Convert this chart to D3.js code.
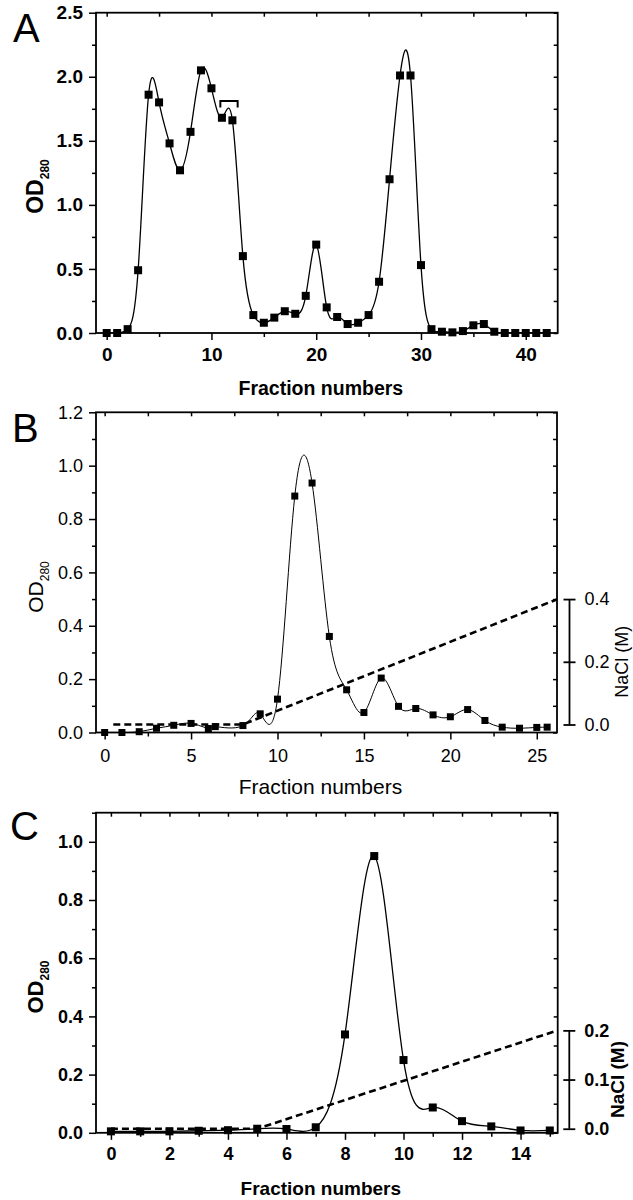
<!DOCTYPE html>
<html>
<head>
<meta charset="utf-8">
<script src="https://cdn.jsdelivr.net/npm/d3@7"></script>
<style>
body{margin:0;background:#fff;}
</style>
</head>
<body>
<div class="box"></div>
<script>
// ---- panel A : gel filtration ----
const fracA=[0,1,2,3,4,5,6,7,8,9,10,11,12,13,14,15,16,17,18,19,20,21,22,23,24,25,26,27,28,29,30,31,32,33,34,35,36,37,38,39,40,41,42];
const odA=[0,0,0.03,0.49,1.86,1.80,1.48,1.27,1.57,2.05,1.91,1.68,1.66,0.60,0.14,0.08,0.12,0.17,0.15,0.29,0.69,0.20,0.125,0.07,0.08,0.14,0.40,1.20,2.01,2.01,0.53,0.03,0.01,0.005,0.015,0.06,0.07,0.01,0,0,0,0,0];
const bracketA=[10.85,12.5];   // pooled fractions
const xTicksA=[0,10,20,30,40];
const xMinorA=[5,15,25,35];
const yTicksA=[0,0.5,1.0,1.5,2.0,2.5];
const yMinorA=[0.25,0.75,1.25,1.75,2.25];

// ---- panel B : ion exchange ----
const fracB=[0,1,2,3,4,5,6,6.4,8,9,10,11,12,13,14,15,16,17,18,19,20,21,22,23,24,25,25.6];
const odB=[0,0,0.003,0.016,0.027,0.034,0.015,0.022,0.026,0.07,0.125,0.886,0.935,0.36,0.16,0.075,0.204,0.098,0.09,0.066,0.059,0.086,0.045,0.02,0.016,0.019,0.02];
const naclFracB=[0.5,8,26.2];
const naclB=[0,0,0.4];
const xTicksB=[0,5,10,15,20,25];
const xMinorB=[2.5,7.5,12.5,17.5,22.5];
const yTicksB=[0,0.2,0.4,0.6,0.8,1.0,1.2];
const yMinorB=[0.1,0.3,0.5,0.7,0.9,1.1];
const naclTicksB=[0,0.2,0.4];

// ---- panel C ----
const fracC=[0,1,2,3,4,5,6,7,8,9,10,11,12,13,14,15];
const odC=[0.005,0.005,0.005,0.007,0.009,0.014,0.013,0.019,0.338,0.951,0.25,0.087,0.04,0.022,0.008,0.008];
const naclFracC=[0,5,15.27];
const naclC=[0,0,0.2];
const xTicksC=[0,2,4,6,8,10,12,14];
const xMinorC=[1,3,5,7,9,11,13,15];
const yTicksC=[0,0.2,0.4,0.6,0.8,1.0];
const yMinorC=[0.1,0.3,0.5,0.7,0.9,1.1];
const naclTicksC=[0,0.1,0.2];

const font='"Liberation Sans", Arial, sans-serif';

const svg=d3.select('.box')
    .append('svg')
    .attr('width',633)
    .attr('height',1200);

const panels=[
  {id:'A',letter:[13,42],l:96,r:557.7,t:12.7,b:333,xDom:[-1.02,43.05],yDom:[0,2.5],
   frac:fracA,od:odA,xTicks:xTicksA,xMinor:xMinorA,yTicks:yTicksA,yMinor:yMinorA,
   weight:'bold',tickSize:19,xPad:8,labSize:19.5,labY:395,odSize:23,odY:186.5,mark:8,curveW:1.3},
  {id:'B',letter:[12,442],l:96,r:557,t:412.3,b:732.5,xDom:[-0.5,26.17],yDom:[0,1.2],
   frac:fracB,od:odB,xTicks:xTicksB,xMinor:xMinorB,yTicks:yTicksB,yMinor:yMinorB,
   nFrac:naclFracB,nacl:naclB,nTicks:naclTicksB,nDom:[0,0.4],nOd:[0.03,0.5],nX:569.5,nLabX:628,nSize:18,
   weight:'normal',tickSize:18,xPad:10,labSize:21,labY:794,odSize:21,odY:587,mark:7,curveW:1},
  {id:'C',letter:[10,840],l:96,r:557.7,t:812.7,b:1132.8,xDom:[-0.51,15.27],yDom:[0,1.1],
   frac:fracC,od:odC,xTicks:xTicksC,xMinor:xMinorC,yTicks:yTicksC,yMinor:yMinorC,
   nFrac:naclFracC,nacl:naclC,nTicks:naclTicksC,nDom:[0,0.2],nOd:[0.014,0.352],nX:569.3,nLabX:624,nSize:19,
   weight:'bold',tickSize:18,xPad:7,labSize:19,labY:1195,odSize:22,odY:987,mark:8,curveW:1.3}
];

const styleAxis=(sel,p)=>{
    sel.select('.domain').remove();
    sel.selectAll('line').attr('stroke','#000').attr('stroke-width',1.5);
    sel.selectAll('text')
        .attr('font-family',font)
        .attr('font-size',p.tickSize)
        .attr('font-weight',p.weight)
        .attr('fill','#000');
};

const draw=(p)=>{
    const x=d3.scaleLinear().domain(p.xDom).range([p.l,p.r]);
    const y=d3.scaleLinear().domain(p.yDom).range([p.b,p.t]);
    const g=svg.append('g');

    g.append('clipPath').attr('id','clip'+p.id)
        .append('rect').attr('x',p.l).attr('y',p.t).attr('width',p.r-p.l).attr('height',p.b-p.t);

    // axes: bottom / left outward, top / right inward
    g.append('g').attr('transform',`translate(0,${p.b})`)
        .call(d3.axisBottom(x).tickValues(p.xTicks).tickSize(7).tickPadding(p.xPad).tickFormat(d3.format('d')))
        .call(s=>styleAxis(s,p));
    g.append('g').attr('transform',`translate(0,${p.b})`)
        .call(d3.axisBottom(x).tickValues(p.xMinor).tickSize(4).tickFormat(''))
        .call(s=>styleAxis(s,p));
    g.append('g').attr('transform',`translate(${p.l},0)`)
        .call(d3.axisLeft(y).tickValues(p.yTicks).tickSize(7).tickPadding(6).tickFormat(d3.format('.1f')))
        .call(s=>styleAxis(s,p));
    g.append('g').attr('transform',`translate(${p.l},0)`)
        .call(d3.axisLeft(y).tickValues(p.yMinor).tickSize(4).tickFormat(''))
        .call(s=>styleAxis(s,p));
    g.append('g').attr('transform',`translate(0,${p.t})`)
        .call(d3.axisTop(x).tickValues(p.xTicks.concat(p.xMinor)).tickSize(-4).tickFormat(''))
        .call(s=>styleAxis(s,p));
    g.append('g').attr('transform',`translate(${p.r},0)`)
        .call(d3.axisRight(y).tickValues(p.yTicks.concat(p.yMinor)).tickSize(-4).tickFormat(''))
        .call(s=>styleAxis(s,p));

    g.append('rect')
        .attr('x',p.l).attr('y',p.t)
        .attr('width',p.r-p.l).attr('height',p.b-p.t)
        .attr('fill','none').attr('stroke','#000').attr('stroke-width',1.8);

    // NaCl gradient + its own axis
    if(p.nacl){
        const yn=d3.scaleLinear().domain(p.nDom).range([y(p.nOd[0]),y(p.nOd[1])]);
        const pts=p.nFrac.map((f,i)=>[f,p.nacl[i]]);
        g.append('path')
            .attr('clip-path',`url(#clip${p.id})`)
            .attr('d',d3.line().x(d=>x(d[0])).y(d=>yn(d[1]))(pts))
            .attr('fill','none').attr('stroke','#000')
            .attr('stroke-width',2.6).attr('stroke-dasharray','7,4');
        const ax=g.append('g').attr('transform',`translate(${p.nX},0)`)
            .call(d3.axisRight(yn).tickValues(p.nTicks).tickSize(6).tickPadding(9).tickFormat(d3.format('.1f')))
            .call(s=>styleAxis(s,p));
        ax.select('.domain').remove();
        ax.append('line').attr('x1',0).attr('x2',0)
            .attr('y1',yn(p.nDom[0])).attr('y2',yn(p.nDom[1]))
            .attr('stroke','#000').attr('stroke-width',1.8);
        ax.selectAll('.tick line').attr('x1',-6).attr('stroke-width',1.8);
        g.append('text')
            .attr('transform',`translate(${p.nLabX},${(yn(p.nDom[0])+yn(p.nDom[1]))/2}) rotate(-90)`)
            .attr('text-anchor','middle')
            .attr('font-family',font).attr('font-size',p.nSize).attr('font-weight',p.weight)
            .text('NaCl (M)');
    }

    // elution curve
    const pts=p.frac.map((f,i)=>[f,p.od[i]]);
    g.append('path')
        .attr('clip-path',`url(#clip${p.id})`)
        .attr('d',d3.line().x(d=>x(d[0])).y(d=>y(d[1])).curve(d3.curveNatural)(pts))
        .attr('fill','none').attr('stroke','#000').attr('stroke-width',p.curveW);

    g.selectAll('rect.pt')
        .data(pts)
        .enter()
        .append('rect')
        .attr('class','pt')
        .attr('x',d=>x(d[0])-p.mark/2)
        .attr('y',d=>y(d[1])-p.mark/2)
        .attr('width',p.mark).attr('height',p.mark)
        .attr('fill','#000');

    if(p.id==='A'){
        g.append('path')
            .attr('d',`M${x(bracketA[0])},${y(1.76)}V${y(1.81)}H${x(bracketA[1])}V${y(1.76)}`)
            .attr('fill','none').attr('stroke','#000').attr('stroke-width',2);
    }

    // titles
    g.append('text')
        .attr('x',(p.l+p.r)/2-6).attr('y',p.labY)
        .attr('text-anchor','middle')
        .attr('font-family',font).attr('font-size',p.labSize).attr('font-weight',p.weight)
        .text('Fraction numbers');
    const od=g.append('text')
        .attr('transform',`translate(43,${p.odY}) rotate(-90)`)
        .attr('text-anchor','middle')
        .attr('font-family',font).attr('font-size',p.odSize).attr('font-weight',p.weight);
    od.append('tspan').text('OD');
    od.append('tspan').attr('font-size',12).attr('dy',6).text('280');

    g.append('text')
        .attr('x',p.letter[0]).attr('y',p.letter[1])
        .attr('font-family',font).attr('font-size',40)
        .text(p.id);
};

panels.forEach(draw);
</script>
</body>
</html>
